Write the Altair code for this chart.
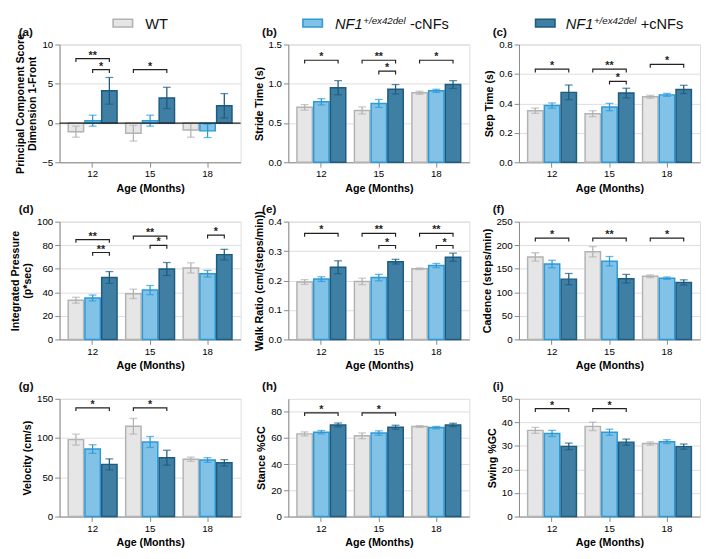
import altair as alt
import pandas as pd

FONT = "Liberation Sans"
AGES = ["12", "15", "18"]
GROUPS = ["WT", "-cNFs", "+cNFs"]
FILLS = ["#e6e6e6", "#82c2e6", "#3f7fa4"]
STROKES = ["#b2b2b2", "#2b9ad7", "#1d5b80"]

# legend text parts (one item above each column)
LEG_MAIN = ["WT", "NF1", "NF1"]
LEG_SUP = ["", "+/ex42del", "+/ex42del"]
LEG_SUFFIX = ["", "-cNFs", "+cNFs"]

# values: [group][age] ; groups = WT, -cNFs, +cNFs ; ages = 12, 15, 18
PCS_MEAN = [[-1.1, -1.3, -0.9], [0.3, 0.3, -1.0], [4.1, 3.2, 2.2]]
PCS_SEM = [[0.7, 1.0, 0.9], [0.7, 0.7, 0.85], [1.7, 1.35, 1.55]]
PCS_SIG = [("12", "WT", "+cNFs", 8.2, "**"), ("12", "-cNFs", "+cNFs", 6.8, "*"),
           ("15", "WT", "+cNFs", 6.8, "*")]

STRIDE_MEAN = [[0.70, 0.66, 0.885], [0.77, 0.75, 0.91], [0.95, 0.93, 0.99]]
STRIDE_SEM = [[0.035, 0.045, 0.02], [0.04, 0.05, 0.02], [0.09, 0.06, 0.05]]
STRIDE_SIG = [("12", "WT", "+cNFs", 1.30, "*"), ("15", "WT", "+cNFs", 1.30, "**"),
              ("15", "-cNFs", "+cNFs", 1.16, "*"), ("18", "WT", "+cNFs", 1.30, "*")]

STEP_MEAN = [[0.35, 0.33, 0.445], [0.385, 0.375, 0.458], [0.475, 0.47, 0.495]]
STEP_SEM = [[0.018, 0.02, 0.01], [0.018, 0.025, 0.01], [0.05, 0.033, 0.028]]
STEP_SIG = [("12", "WT", "+cNFs", 0.633, "*"), ("15", "WT", "+cNFs", 0.633, "**"),
            ("15", "-cNFs", "+cNFs", 0.55, "*"), ("18", "WT", "+cNFs", 0.665, "*")]

PRESS_MEAN = [[33.3, 38.7, 60.7], [35.2, 41.9, 55.8], [52.6, 59.8, 72.0]]
PRESS_SEM = [[2.5, 4.0, 4.3], [2.5, 3.9, 2.8], [5.0, 5.5, 4.5]]
PRESS_SIG = [("12", "WT", "+cNFs", 84.8, "**"), ("12", "-cNFs", "+cNFs", 73.8, "**"),
             ("15", "WT", "+cNFs", 87.7, "**"), ("15", "-cNFs", "+cNFs", 79.8, "*"),
             ("18", "-cNFs", "+cNFs", 88.5, "*")]

WALK_MEAN = [[0.195, 0.197, 0.24], [0.205, 0.21, 0.251], [0.245, 0.264, 0.279]]
WALK_SEM = [[0.008, 0.011, 0.003], [0.008, 0.011, 0.007], [0.022, 0.008, 0.014]]
WALK_SIG = [("12", "WT", "+cNFs", 0.36, "*"), ("15", "WT", "+cNFs", 0.36, "**"),
            ("15", "-cNFs", "+cNFs", 0.319, "*"), ("18", "WT", "+cNFs", 0.36, "**"),
            ("18", "-cNFs", "+cNFs", 0.319, "*")]

CAD_MEAN = [[175, 186, 134], [160, 166, 130], [128, 129, 121]]
CAD_SEM = [[9, 11, 3], [8, 10, 2.5], [12, 9, 5.5]]
CAD_SIG = [("12", "WT", "+cNFs", 215, "*"), ("15", "WT", "+cNFs", 215, "**"),
           ("18", "WT", "+cNFs", 215, "*")]

VEL_MEAN = [[98, 115, 73], [86, 95, 72], [66.5, 75, 68.5]]
VEL_SEM = [[7, 10, 2.7], [5.5, 7, 3], [7, 9.5, 4]]
VEL_SIG = [("12", "WT", "+cNFs", 138.5, "*"), ("15", "WT", "+cNFs", 138.5, "*")]

STANCE_MEAN = [[63.2, 61.7, 68.8], [64.5, 63.8, 68.0], [70.0, 68.3, 70.0]]
STANCE_SEM = [[1.5, 2.2, 0.7], [1.3, 1.7, 0.9], [1.5, 1.5, 1.3]]
STANCE_SIG = [("12", "WT", "+cNFs", 79.3, "*"), ("15", "WT", "+cNFs", 79.3, "*")]

SWING_MEAN = [[36.6, 38.3, 31.0], [35.3, 35.8, 31.8], [29.8, 31.6, 29.7]]
SWING_SEM = [[1.3, 1.8, 0.7], [1.3, 1.3, 0.8], [1.4, 1.3, 1.1]]
SWING_SIG = [("12", "WT", "+cNFs", 45.8, "*"), ("15", "WT", "+cNFs", 45.8, "*")]

W, H = 186, 121
HALF_STEP = -8.6
INK = "#222222"
LABEL_DX = [-42, -27, -27]
# legend item geometry, relative to the plot's top-left corner of each top-row panel
LEG_BOX_X = [55, 15, 17]
LEG_MAIN_X = [88, 48, 48]


def legend_layers(i):
    d = pd.DataFrame({"group": [GROUPS[i]]})
    fill_s = alt.Scale(domain=GROUPS, range=FILLS)
    stroke_s = alt.Scale(domain=GROUPS, range=STROKES)
    out = [alt.Chart(d).mark_rect(strokeWidth=1.6).encode(
        x=alt.value(LEG_BOX_X[i]), x2=alt.value(LEG_BOX_X[i] + 20),
        y=alt.value(-26), y2=alt.value(-18),
        fill=alt.Fill("group:N", scale=fill_s, legend=None),
        stroke=alt.Stroke("group:N", scale=stroke_s, legend=None))]
    out.append(alt.Chart(d).mark_text(font=FONT, fontSize=15, align="left", baseline="alphabetic",
                                      fontStyle="normal" if i == 0 else "italic", color="#111111").encode(
        x=alt.value(LEG_MAIN_X[i]), y=alt.value(-16), text=alt.value(LEG_MAIN[i])))
    if LEG_SUP[i]:
        out.append(alt.Chart(d).mark_text(font=FONT, fontSize=10, align="left", baseline="alphabetic",
                                          fontStyle="italic", color="#111111").encode(
            x=alt.value(LEG_MAIN_X[i] + 29), y=alt.value(-21), text=alt.value(LEG_SUP[i])))
        out.append(alt.Chart(d).mark_text(font=FONT, fontSize=15, align="left", baseline="alphabetic",
                                          color="#111111").encode(
            x=alt.value(LEG_MAIN_X[i] + 77), y=alt.value(-16), text=alt.value(LEG_SUFFIX[i])))
    return out


def panel(idx, letter, ytitle, lo, hi, ticks, fmt, means, sems, sigs):
    col = idx % 3
    rows = []
    for gi, g in enumerate(GROUPS):
        for ai, a in enumerate(AGES):
            m, s = means[gi][ai], sems[gi][ai]
            rows.append({"age": a, "group": g, "mean": m, "lo": m - s, "hi": m + s})
    df = pd.DataFrame(rows)

    drop = 0.028 * (hi - lo)
    brows, srows = [], []
    for k, (age, g1, g2, lvl, txt) in enumerate(sigs):
        for o, (g, yv) in enumerate([(g1, lvl - drop), (g1, lvl), (g2, lvl), (g2, lvl - drop)]):
            brows.append({"bid": k, "o": o, "age": age, "group": g, "mean": yv})
        if g1 == "WT":
            srows.append({"age": age, "group": "-cNFs", "mean": lvl, "txt": txt, "half": 0})
        else:
            srows.append({"age": age, "group": g2, "mean": lvl, "txt": txt, "half": 1})
    bdf = pd.DataFrame(brows)
    sdf = pd.DataFrame(srows)

    xs = alt.Scale(type="band", domain=AGES, paddingInner=0.15, paddingOuter=0.15)
    xo = alt.Scale(type="band", domain=GROUPS, paddingInner=0.08, paddingOuter=0)
    ys = alt.Scale(domain=[lo, hi], nice=False)
    fill = alt.Scale(domain=GROUPS, range=FILLS)
    stroke = alt.Scale(domain=GROUPS, range=STROKES)
    X = alt.X("age:N", scale=xs, axis=alt.Axis(title="Age (Months)", labelAngle=0))
    XO = alt.XOffset("group:N", scale=xo)
    YAX = alt.Axis(title=ytitle, values=ticks, format=fmt)

    def Y(field):
        return alt.Y(field, type="quantitative", scale=ys, axis=YAX)

    bars = alt.Chart(df).mark_bar(strokeWidth=1.5).encode(
        x=X, xOffset=XO, y=Y("mean"),
        fill=alt.Fill("group:N", scale=fill, legend=None),
        stroke=alt.Stroke("group:N", scale=stroke, legend=None),
    )
    err = alt.Chart(df).mark_rule(strokeWidth=1.3).encode(
        x=X, xOffset=XO, y=Y("lo"), y2="hi:Q",
        color=alt.Color("group:N", scale=stroke, legend=None),
    )
    cap_hi = alt.Chart(df).mark_tick(size=8, thickness=1.3).encode(
        x=X, xOffset=XO, y=Y("hi"),
        color=alt.Color("group:N", scale=stroke, legend=None),
    )
    cap_lo = alt.Chart(df).mark_tick(size=8, thickness=1.3).encode(
        x=X, xOffset=XO, y=Y("lo"),
        color=alt.Color("group:N", scale=stroke, legend=None),
    )
    brk = alt.Chart(bdf).mark_line(color=INK, strokeWidth=1.2).encode(
        x=X, xOffset=XO, y=Y("mean"), detail="bid:N", order="o:Q",
    )
    layers = [bars, err, cap_hi, cap_lo, brk]
    s0 = sdf[sdf.half == 0]
    s1 = sdf[sdf.half == 1]
    if len(s0):
        layers.append(alt.Chart(s0).mark_text(font=FONT, fontSize=11, fontWeight="bold", color=INK,
                                              baseline="alphabetic").encode(
            x=X, xOffset=XO, y=Y("mean"), text="txt:N"))
    if len(s1):
        layers.append(alt.Chart(s1).mark_text(font=FONT, fontSize=11, fontWeight="bold", color=INK,
                                              baseline="alphabetic", dx=HALF_STEP).encode(
            x=X, xOffset=XO, y=Y("mean"), text="txt:N"))
    if lo < 0:
        layers.append(alt.Chart(pd.DataFrame({"mean": [0]})).mark_rule(color=INK, strokeWidth=1.3).encode(
            y=Y("mean")))
    # panel letter
    layers.append(alt.Chart(pd.DataFrame({"lab": [letter]})).mark_text(
        font=FONT, fontSize=12, fontWeight="bold", color="#111111", align="left", baseline="alphabetic").encode(
        x=alt.value(LABEL_DX[col]), y=alt.value(-9), text="lab:N"))
    if idx < 3:
        layers += legend_layers(idx)
    return alt.layer(*layers).properties(width=W, height=H)


panels = [
    panel(0, "(a)", ["Principal Component Score", "Dimension 1-Front"], -5, 10, [-5, 0, 5, 10], "d",
          PCS_MEAN, PCS_SEM, PCS_SIG),
    panel(1, "(b)", "Stride Time (s)", 0, 1.5, [0, 0.5, 1.0, 1.5], ".1f", STRIDE_MEAN, STRIDE_SEM, STRIDE_SIG),
    panel(2, "(c)", "Step  Time (s)", 0, 0.8, [0, 0.2, 0.4, 0.6, 0.8], ".1f", STEP_MEAN, STEP_SEM, STEP_SIG),
    panel(3, "(d)", ["Integrated Pressure", "(p*sec)"], 0, 100, [0, 20, 40, 60, 80, 100], "d",
          PRESS_MEAN, PRESS_SEM, PRESS_SIG),
    panel(4, "(e)", "Walk Ratio (cm/(steps/min))", 0, 0.4, [0, 0.1, 0.2, 0.3, 0.4], ".1f",
          WALK_MEAN, WALK_SEM, WALK_SIG),
    panel(5, "(f)", "Cadence (steps/min)", 0, 250, [0, 50, 100, 150, 200, 250], "d", CAD_MEAN, CAD_SEM, CAD_SIG),
    panel(6, "(g)", "Velocity (cm/s)", 0, 150, [0, 50, 100, 150], "d", VEL_MEAN, VEL_SEM, VEL_SIG),
    panel(7, "(h)", "Stance %GC", 0, 90, [0, 20, 40, 60, 80], "d", STANCE_MEAN, STANCE_SEM, STANCE_SIG),
    panel(8, "(i)", "Swing %GC", 0, 50, [0, 10, 20, 30, 40, 50], "d", SWING_MEAN, SWING_SEM, SWING_SIG),
]

chart = alt.concat(*panels, columns=3, spacing={"row": 8, "column": 10}, align="each").configure_axis(
    labelFont=FONT, titleFont=FONT, labelFontWeight="bold", titleFontWeight="bold",
    labelFontSize=8, titleFontSize=8.8, labelColor="#1a1a1a", titleColor="#1a1a1a",
    domainColor="#333333", tickColor="#333333", domainWidth=1.2, tickWidth=1.2, tickSize=3.5,
    grid=False, labelPadding=2, titlePadding=3, titleLineHeight=10.5,
).configure_view(stroke="#333333", strokeWidth=1.2).configure(font=FONT, padding=0)

chart.save("out.html", embed_options={"renderer": "svg", "actions": False})
